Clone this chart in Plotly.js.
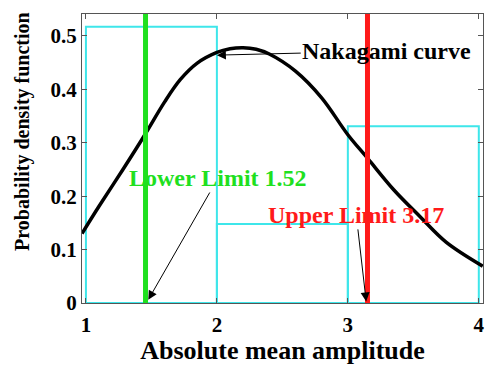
<!DOCTYPE html>
<html>
<head>
<meta charset="utf-8">
<script src="https://cdn.plot.ly/plotly-3.0.1.min.js"></script>
<style>html,body{margin:0;padding:0;background:#fff;}#chart{width:486px;height:365px;}</style>
</head>
<body>
<div id="chart"></div>
<script>
// Histogram bins (centres) and heights
const binCenters = [1.5, 2.5, 3.5];
const binHeights = [0.517, 0.148, 0.331];

// Nakagami curve points
const curveX = [0.97, 1.1, 1.28, 1.45, 1.6, 1.72, 1.85, 2.0, 2.1, 2.2, 2.3, 2.4, 2.6, 2.8, 3.0, 3.15, 3.35, 3.55, 3.75, 4.03];
const curveY = [0.13, 0.181, 0.249, 0.315, 0.376, 0.418, 0.449, 0.469, 0.476, 0.478, 0.475, 0.466, 0.434, 0.384, 0.315, 0.271, 0.212, 0.162, 0.114, 0.069];

// Limit lines
const lowerLineX = [1.455, 1.455];
const upperLineX = [3.15, 3.15];
const limitLineY = [0, 0.541];

const xTicks = [1, 2, 3, 4];
const yTicks = [0, 0.1, 0.2, 0.3, 0.4, 0.5];
const yTickText = ['0', '0.1', '0.2', '0.3', '0.4', '0.5'];

const serif = 'Liberation Serif, Times New Roman, serif';

const traces = [
  {type: 'bar', x: binCenters, y: binHeights, width: 1,
   marker: {color: 'rgba(0,0,0,0)', line: {color: '#3ee6ea', width: 2}}, hoverinfo: 'none'},
  {type: 'scatter', mode: 'lines', x: curveX, y: curveY,
   line: {color: '#000', width: 3.5, shape: 'spline', smoothing: 1}},
  {type: 'scatter', mode: 'lines', x: lowerLineX, y: limitLineY,
   line: {color: '#1fe01f', width: 5}},
  {type: 'scatter', mode: 'lines', x: upperLineX, y: limitLineY,
   line: {color: '#ff1a1a', width: 5}}
];

const layout = {
  width: 486, height: 365,
  margin: {l: 82, r: 3, t: 14, b: 62},
  paper_bgcolor: '#fff', plot_bgcolor: '#fff',
  showlegend: false,
  font: {family: serif, color: '#000'},
  xaxis: {
    range: [0.97, 4.032], tickvals: xTicks, ticktext: xTicks.map(String),
    showgrid: false, zeroline: false, showline: true, mirror: 'ticks',
    linecolor: '#555', linewidth: 1, ticks: 'inside', ticklen: 5, tickcolor: '#555',
    tickfont: {family: serif, size: 21, weight: 'bold'}, ticklabelstandoff: 3,
    title: {text: 'Absolute mean amplitude', font: {family: serif, size: 26, weight: 'bold'}, standoff: 5}
  },
  yaxis: {
    range: [0, 0.541], tickvals: yTicks, ticktext: yTickText,
    showgrid: false, zeroline: false, showline: true, mirror: 'ticks',
    linecolor: '#555', linewidth: 1, ticks: 'inside', ticklen: 5, tickcolor: '#555',
    tickfont: {family: serif, size: 21, weight: 'bold'}
  },
  annotations: [
    {xref: 'paper', yref: 'paper', x: -0.15, y: 0.595, text: 'Probability density function',
     textangle: -90, showarrow: false, xanchor: 'center', yanchor: 'middle',
     font: {family: serif, size: 20, weight: 'bold', color: '#000'}},
    {x: 2.0, y: 0.464, ax: 3.297, ay: 0.4717, axref: 'x', ayref: 'y', text: 'Nakagami curve',
     showarrow: true, arrowhead: 2, arrowsize: 1.8, arrowwidth: 1, arrowcolor: '#000',
     font: {family: serif, size: 24, weight: 'bold', color: '#000'}},
    {x: 1.476, y: 0.006, ax: 2.009, ay: 0.234, axref: 'x', ayref: 'y', text: 'Lower Limit 1.52',
     showarrow: true, arrowhead: 2, arrowsize: 1.8, arrowwidth: 1, arrowcolor: '#000',
     font: {family: serif, size: 24, weight: 'bold', color: '#1fe01f'}},
    {x: 3.14, y: 0.003, ax: 3.064, ay: 0.165, axref: 'x', ayref: 'y', text: 'Upper Limit 3.17',
     showarrow: true, arrowhead: 2, arrowsize: 1.8, arrowwidth: 1, arrowcolor: '#000',
     font: {family: serif, size: 24, weight: 'bold', color: '#ff1a1a'}}
  ]
};

Plotly.newPlot('chart', traces, layout, {displayModeBar: false, staticPlot: true});
</script>
</body>
</html>
